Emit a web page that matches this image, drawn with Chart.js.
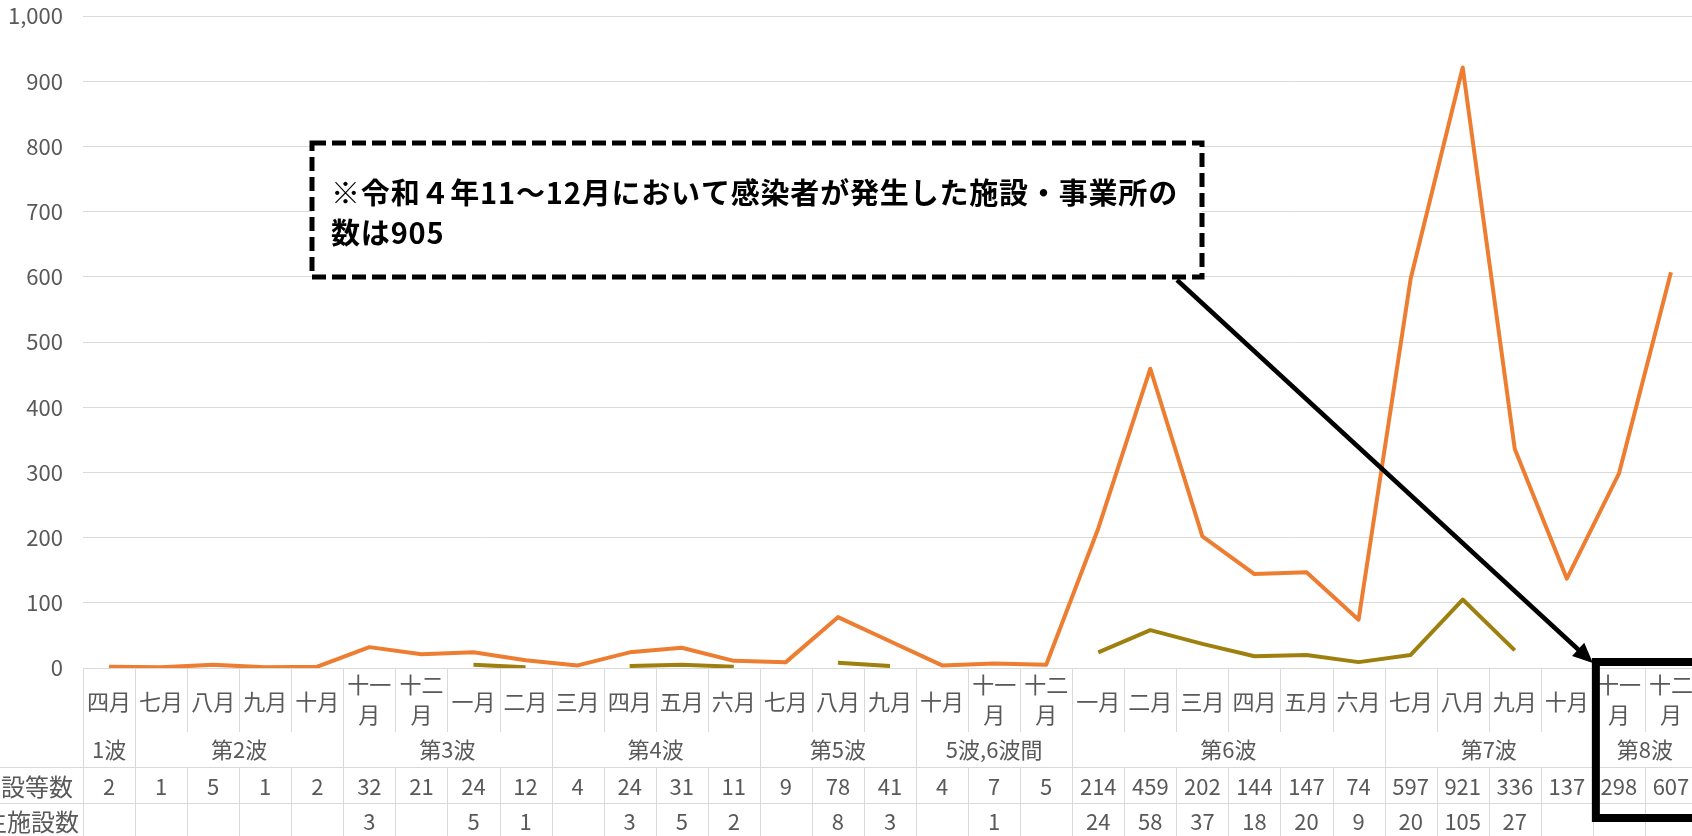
<!DOCTYPE html>
<html lang="ja">
<head>
<meta charset="utf-8">
<script src="https://cdn.jsdelivr.net/npm/chart.js@4.4.1/dist/chart.umd.min.js"></script>
<style>
html, body { margin: 0; padding: 0; background: #fff; overflow: hidden; }
#wrap { position: absolute; left: 0; top: 0; width: 1720px; height: 836px; }
</style>
</head>
<body>
<div id="wrap"><canvas id="graph" width="1720" height="836"></canvas></div>
<script>
// mois affichés sous le graphique
const months = ['四月','七月','八月','九月','十月','十一月','十二月','一月','二月','三月','四月','五月','六月',
  '七月','八月','九月','十月','十一月','十二月','一月','二月','三月','四月','五月','六月',
  '七月','八月','九月','十月','十一月','十二月'];

// vagues : nom + colonne de départ
const waveNames = ['1波','第2波','第3波','第4波','第5波','5波,6波間','第6波','第7波','第8波'];
const waveStarts = [0, 1, 5, 9, 13, 16, 19, 25, 29];

// nombre de sites avec infection
const totals = [2,1,5,1,2,32,21,24,12,4,24,31,11,9,78,41,4,7,5,214,459,202,144,147,74,597,921,336,137,298,607];
// dont clusters (null = vide)
const clusters = [null,null,null,null,null,3,null,5,1,null,3,5,2,null,8,3,null,1,null,24,58,37,18,20,9,20,105,27,null,null,null];

const rowHeaders = ['感染者が発生した施設等数', 'クラスター発生施設数'];
const noteLines = ['※令和４年11～12月において感染者が発生した施設・事業所の', '数は905'];

const FONT = "'Noto Sans CJK JP', 'Noto Sans', sans-serif";
const GREY = '#595959';
const LINE = '#d9d9d9';

function seg(ctx, x1, y1, x2, y2) {
  ctx.beginPath();
  ctx.moveTo(x1, y1);
  ctx.lineTo(x2, y2);
  ctx.stroke();
}

// tableau de données sous l'axe
const tablePlugin = {
  id: 'dataTable',
  afterDraw(chart) {
    const ctx = chart.ctx;
    const xs = chart.scales.x;
    const area = chart.chartArea;
    const n = months.length;
    const w = (area.right - area.left) / n;
    const edge = k => area.left + k * w;
    const top = area.bottom;
    const yMonthEnd = top + 64, yWaveEnd = top + 99, yTotalEnd = top + 135, yEnd = top + 175;
    const groupEdges = new Set([...waveStarts, n]);

    ctx.save();
    ctx.strokeStyle = LINE;
    ctx.lineWidth = 1;
    seg(ctx, area.left, top + 0.5, chart.width, top + 0.5);
    seg(ctx, 0, Math.round(yWaveEnd) + 0.5, chart.width, Math.round(yWaveEnd) + 0.5);
    seg(ctx, 0, Math.round(yTotalEnd) + 0.5, chart.width, Math.round(yTotalEnd) + 0.5);
    for (let k = 0; k <= n; k++) {
      const x = Math.round(edge(k)) + 0.5;
      seg(ctx, x, top, x, groupEdges.has(k) ? yEnd : yMonthEnd);
      seg(ctx, x, yWaveEnd, x, yEnd);
    }

    ctx.fillStyle = GREY;
    ctx.textAlign = 'center';
    ctx.textBaseline = 'middle';
    ctx.font = '22px ' + FONT;
    months.forEach((m, i) => {
      const cx = xs.getPixelForValue(i);
      if (ctx.measureText(m).width > w - 4) {
        ctx.fillText(m.slice(0, -1), cx, top + 17);
        ctx.fillText(m.slice(-1), cx, top + 47);
      } else {
        ctx.fillText(m, cx, top + 34);
      }
    });
    waveNames.forEach((name, j) => {
      const end = j + 1 < waveStarts.length ? waveStarts[j + 1] : n;
      ctx.fillText(name, (edge(waveStarts[j]) + edge(end)) / 2, top + 82);
    });
    totals.forEach((v, i) => ctx.fillText(String(v), xs.getPixelForValue(i), top + 119));
    clusters.forEach((v, i) => {
      if (v !== null) ctx.fillText(String(v), xs.getPixelForValue(i), top + 154);
    });

    ctx.textAlign = 'right';
    ctx.font = '24px ' + FONT;
    ctx.fillText(rowHeaders[0], area.left - 10, top + 119);
    ctx.fillText(rowHeaders[1], area.left - 4, top + 154);

    // cadre noir autour de la 8e vague
    const bx = edge(29) + 3, by = top - 6;
    ctx.strokeStyle = '#000';
    ctx.lineWidth = 8;
    ctx.strokeRect(bx, by, chart.width + 20 - bx, 156);

    // encadré de la note
    ctx.setLineDash([14, 6]);
    ctx.lineWidth = 5;
    ctx.fillStyle = '#fff';
    ctx.fillRect(312, 143, 890, 134);
    ctx.strokeRect(312, 143, 890, 134);
    ctx.setLineDash([]);

    ctx.fillStyle = '#000';
    ctx.textAlign = 'left';
    ctx.font = 'bold 29px ' + FONT;
    const raw = ctx.measureText(noteLines[0]).width;
    const sp = Math.max((847 - raw) / noteLines[0].length, -2);
    ctx.letterSpacing = sp + 'px';
    ctx.fillText(noteLines[0], 331, 193);
    ctx.fillText(noteLines[1], 331, 233);
    ctx.letterSpacing = '0px';

    // flèche
    const x1 = 1177, y1 = 280, x2 = bx - 3, y2 = by + 1;
    const ang = Math.atan2(y2 - y1, x2 - x1);
    ctx.lineWidth = 4.5;
    seg(ctx, x1, y1, x2 - 14 * Math.cos(ang), y2 - 14 * Math.sin(ang));
    ctx.beginPath();
    ctx.moveTo(x2, y2);
    ctx.lineTo(x2 - 20 * Math.cos(ang) + 9 * Math.sin(ang), y2 - 20 * Math.sin(ang) - 9 * Math.cos(ang));
    ctx.lineTo(x2 - 20 * Math.cos(ang) - 9 * Math.sin(ang), y2 - 20 * Math.sin(ang) + 9 * Math.cos(ang));
    ctx.closePath();
    ctx.fill();
    ctx.restore();
  }
};

const ctx = document.getElementById('graph').getContext('2d');
new Chart(ctx, {
  type: 'line',
  data: {
    labels: months,
    datasets: [{
      label: '施設等数',
      data: totals,
      borderColor: '#ED7D31',
      borderWidth: 4,
      pointRadius: 0,
      tension: 0,
      borderJoinStyle: 'round',
      borderCapStyle: 'butt'
    }, {
      label: 'クラスター',
      data: clusters,
      borderColor: '#9E800F',
      borderWidth: 4,
      pointRadius: 0,
      tension: 0,
      spanGaps: false,
      borderJoinStyle: 'round',
      borderCapStyle: 'butt'
    }]
  },
  options: {
    responsive: false,
    animation: false,
    devicePixelRatio: 1,
    layout: { padding: { left: 0, right: 23, top: 16, bottom: 168 } },
    plugins: { legend: { display: false }, tooltip: { enabled: false } },
    scales: {
      x: { display: false, offset: true },
      y: {
        min: 0,
        max: 1000,
        ticks: {
          stepSize: 100,
          padding: 20,
          color: GREY,
          font: { family: FONT, size: 22 },
          callback: v => v.toLocaleString('en-US')
        },
        grid: { color: LINE, lineWidth: 1, drawTicks: false },
        border: { display: false },
        afterFit: scale => {
          scale.width = 83;
          scale.paddingTop = 0;
          scale.paddingBottom = 0;
        }
      }
    }
  },
  plugins: [tablePlugin]
});
</script>
</body>
</html>
